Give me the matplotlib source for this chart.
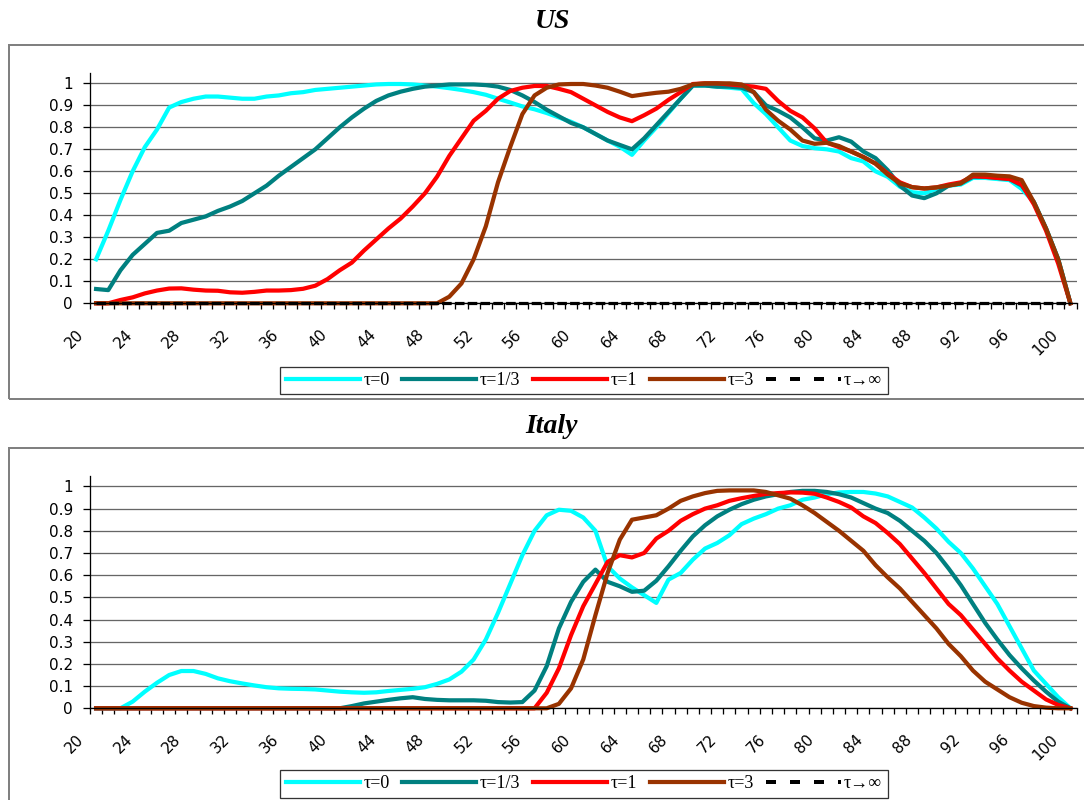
import numpy as np
import matplotlib
matplotlib.use("Agg")
import matplotlib.pyplot as plt
import matplotlib.transforms as mtrans
from matplotlib.lines import Line2D
from matplotlib.patches import Rectangle

# ages on the category axis, one value per year
ages = list(range(20, 101))
tick_ages = list(range(20, 101, 4))

# ---- US ----
us_tau0 = [0.20, 0.33, 0.47, 0.60, 0.71, 0.79, 0.89, 0.915, 0.93, 0.94,
           0.94, 0.935, 0.93, 0.93, 0.94, 0.945, 0.955, 0.96, 0.97, 0.975,
           0.98, 0.985, 0.99, 0.995, 0.997, 0.997, 0.995, 0.99, 0.985, 0.978,
           0.97, 0.96, 0.948, 0.93, 0.913, 0.895, 0.882, 0.865, 0.845, 0.825,
           0.80, 0.77, 0.74, 0.712, 0.675, 0.74, 0.80, 0.865, 0.93, 0.99,
           0.99, 0.985, 0.98, 0.975, 0.91, 0.86, 0.80, 0.74, 0.715, 0.705,
           0.70, 0.69, 0.66, 0.645, 0.60, 0.575, 0.53, 0.505, 0.50, 0.52,
           0.535, 0.54, 0.57, 0.57, 0.565, 0.56, 0.52, 0.46, 0.34, 0.20,
           0.0]
us_tau13 = [0.065, 0.06, 0.15, 0.22, 0.27, 0.32, 0.33, 0.365, 0.38, 0.395,
            0.42, 0.44, 0.465, 0.50, 0.535, 0.58, 0.62, 0.66, 0.70, 0.75,
            0.80, 0.845, 0.885, 0.92, 0.945, 0.962, 0.975, 0.985, 0.99, 0.995,
            0.995, 0.995, 0.992, 0.985, 0.97, 0.945, 0.915, 0.88, 0.85, 0.82,
            0.80, 0.77, 0.74, 0.72, 0.70, 0.75, 0.81, 0.87, 0.93, 0.99,
            0.99, 0.985, 0.985, 0.98, 0.96, 0.90, 0.875, 0.845, 0.80, 0.75,
            0.74, 0.755, 0.735, 0.69, 0.66, 0.605, 0.535, 0.49, 0.478, 0.50,
            0.535, 0.545, 0.575, 0.575, 0.57, 0.565, 0.535, 0.46, 0.34, 0.20,
            0.0]
us_tau1 = [0.0, 0.0, 0.015, 0.027, 0.045, 0.058, 0.067, 0.068, 0.062, 0.058,
           0.057, 0.05, 0.048, 0.052, 0.058, 0.058, 0.06, 0.066, 0.08, 0.11,
           0.15, 0.185, 0.24, 0.29, 0.34, 0.385, 0.44, 0.50, 0.576, 0.67,
           0.75, 0.83, 0.875, 0.93, 0.965, 0.98, 0.988, 0.988, 0.975, 0.96,
           0.93, 0.90, 0.87, 0.845, 0.828, 0.855, 0.885, 0.925, 0.96, 0.997,
           1.0, 1.0, 0.995, 0.99, 0.985, 0.975, 0.92, 0.875, 0.845, 0.795,
           0.73, 0.71, 0.69, 0.665, 0.635, 0.59, 0.55, 0.528, 0.522, 0.527,
           0.54, 0.55, 0.578, 0.575, 0.57, 0.565, 0.54, 0.45, 0.33, 0.18,
           0.0]
us_tau3 = [0.0] * 29 + [
           0.03, 0.09, 0.20, 0.35, 0.55, 0.71, 0.86, 0.945, 0.98,
           0.995, 0.997, 0.997, 0.99, 0.98, 0.962, 0.942, 0.95, 0.957, 0.962,
           0.975, 0.995, 1.0, 1.0, 1.0, 0.995, 0.96, 0.88, 0.83, 0.79,
           0.74, 0.725, 0.73, 0.715, 0.69, 0.665, 0.635, 0.585, 0.545, 0.528,
           0.522, 0.527, 0.535, 0.545, 0.585, 0.585, 0.58, 0.577, 0.56, 0.46,
           0.34, 0.20, 0.0]
us_inf = [0.0] * 81

# ---- Italy ----
it_tau0 = [0.0, 0.0, 0.0, 0.03, 0.075, 0.115, 0.15, 0.168, 0.168, 0.155,
           0.135, 0.122, 0.112, 0.103, 0.095, 0.09, 0.088, 0.087, 0.085, 0.08,
           0.075, 0.072, 0.07, 0.072, 0.078, 0.083, 0.088, 0.095, 0.11, 0.13,
           0.165, 0.22, 0.31, 0.43, 0.56, 0.69, 0.80, 0.87, 0.895, 0.89,
           0.86, 0.80, 0.64, 0.585, 0.545, 0.51, 0.475, 0.58, 0.61, 0.67,
           0.72, 0.745, 0.78, 0.83, 0.855, 0.875, 0.90, 0.915, 0.94, 0.95,
           0.965, 0.973, 0.975, 0.975, 0.968, 0.955, 0.93, 0.905, 0.86, 0.81,
           0.75, 0.70, 0.63, 0.55, 0.47, 0.37, 0.27, 0.17, 0.11, 0.05,
           0.0]
it_tau13 = [0.0] * 21 + [
            0.01, 0.022, 0.03, 0.038, 0.045, 0.05, 0.042, 0.038, 0.036,
            0.036, 0.036, 0.034, 0.028, 0.026, 0.028, 0.08, 0.19, 0.36, 0.48,
            0.57, 0.625, 0.57, 0.55, 0.525, 0.53, 0.575, 0.64, 0.71, 0.775,
            0.825, 0.865, 0.895, 0.92, 0.94, 0.955, 0.965, 0.975, 0.98, 0.98,
            0.975, 0.965, 0.95, 0.925, 0.90, 0.88, 0.845, 0.80, 0.755, 0.70,
            0.63, 0.555, 0.47, 0.385, 0.31, 0.24, 0.18, 0.125, 0.075, 0.03,
            0.0]
it_tau1 = [0.0] * 37 + [
           0.07, 0.18, 0.33,
           0.46, 0.56, 0.66, 0.69, 0.68, 0.70, 0.765, 0.80, 0.845, 0.875,
           0.90, 0.915, 0.935, 0.947, 0.957, 0.966, 0.97, 0.973, 0.972, 0.967,
           0.95, 0.93, 0.905, 0.865, 0.835, 0.79, 0.74, 0.675, 0.61, 0.54,
           0.47, 0.42, 0.355, 0.29, 0.225, 0.17, 0.12, 0.08, 0.04, 0.015,
           0.0]
it_tau3 = [0.0] * 38 + [
           0.02, 0.09,
           0.22, 0.42, 0.61, 0.76, 0.85, 0.86, 0.87, 0.90, 0.935, 0.955,
           0.97, 0.98, 0.982, 0.982, 0.982, 0.975, 0.96, 0.945, 0.915, 0.88,
           0.84, 0.80, 0.755, 0.71, 0.645, 0.59, 0.54, 0.48, 0.42, 0.36,
           0.29, 0.235, 0.17, 0.12, 0.085, 0.05, 0.025, 0.01, 0.003, 0.0,
           0.0]

labels = ["\u03c4=0", "\u03c4=1/3", "\u03c4=1", "\u03c4=3", "\u03c4\u2192\u221e"]
colors = ["#00FFFF", "#008080", "#FF0000", "#993300", "black"]

W, H = 1084, 800
fig = plt.figure(figsize=(W / 100, H / 100), dpi=100)
px = lambda v: v / 100 * 72   # pixels -> points


def frame_box(top, bottom):
    fig.patches.append(Rectangle((9 / W, 1 - bottom / H), 1.1, (bottom - top) / H,
                                 transform=fig.transFigure, fill=False,
                                 edgecolor="#808080", lw=px(2)))


def panel(rect, series, draw_inf):
    ax = fig.add_axes(rect)
    ax.set_xlim(19.5, 100.5)
    ax.set_ylim(0, 1.047)
    ax.set_yticks(np.arange(0, 1.01, 0.1))
    ax.set_yticklabels(["0"] + ["%.1f" % v for v in np.arange(0.1, 0.95, 0.1)] + ["1"])
    ax.yaxis.grid(True, color="#666666", lw=px(1.3))
    ax.set_axisbelow(True)
    for s in ["top", "right"]:
        ax.spines[s].set_visible(False)
    ax.spines["left"].set_linewidth(px(1.3))
    ax.spines["bottom"].set_linewidth(px(1.3))
    ax.tick_params(axis="y", length=px(7), width=px(1.3), pad=px(10),
                   labelsize=11, labelfontfamily="DejaVu Sans")
    ax.set_xticks(np.arange(19.5, 101, 1), minor=True)
    ax.set_xticks([])
    ax.tick_params(axis="x", which="minor", length=px(6), width=px(1.3))

    # rotated category labels hang below the axis, shifted left of the tick
    off = mtrans.ScaledTranslation(-15 / 100, -29 / 100, fig.dpi_scale_trans)
    tr = mtrans.blended_transform_factory(ax.transData, ax.transAxes) + off
    for a in tick_ages:
        ax.text(a, 0, str(a), transform=tr, rotation=45, rotation_mode="anchor",
                ha="right", va="center", fontsize=11, family="DejaVu Sans")

    for vals, c in zip(series, colors[:4]):
        ax.plot(ages, vals, color=c, lw=px(4.2), solid_joinstyle="round",
                clip_on=False)
    if draw_inf:
        ax.plot(ages, us_inf, color="black", lw=px(3.2),
                linestyle=(0, (3, 1)), clip_on=False)
    return ax


def legend(y):
    handles = [Line2D([], [], color=c, lw=px(4.2)) for c in colors[:4]]
    handles.append(Line2D([], [], color="black", lw=px(4), linestyle=(0, (2.5, 3.5))))
    lg = fig.legend(handles, labels, loc="center", bbox_to_anchor=(584 / W, y),
                    ncol=5, frameon=True, fancybox=False, handlelength=4.1,
                    handletextpad=0.2, columnspacing=0.7, borderpad=0.3,
                    prop={"family": "Liberation Serif", "size": 13})
    lg.get_frame().set_edgecolor("black")
    lg.get_frame().set_linewidth(px(1.3))


frame_box(45, 399)
frame_box(448, 830)

panel([90 / W, 1 - 303.3 / H, 986.5 / W, 230.3 / H],
      [us_tau0, us_tau13, us_tau1, us_tau3], True)
panel([90 / W, 1 - 708.3 / H, 986.5 / W, 232.3 / H],
      [it_tau0, it_tau13, it_tau1, it_tau3], False)

legend(1 - 380.5 / H)
legend(1 - 784 / H)

title_font = dict(family="Liberation Serif", fontsize=20, fontweight="bold",
                  style="italic", ha="center", va="center")
fig.text(552 / W, 1 - 21 / H, "US", **title_font)
fig.text(552 / W, 1 - 427 / H, "Italy", **title_font)

fig.savefig("out.png", dpi=100)
